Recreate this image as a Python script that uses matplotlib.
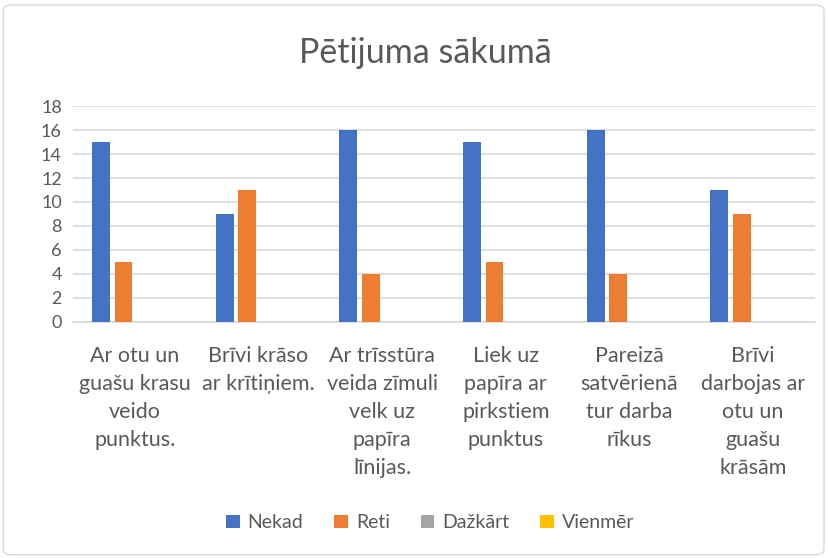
import matplotlib.pyplot as plt
import numpy as np
from matplotlib.patches import FancyBboxPatch

categories = [
    "Ar otu un\nguašu krasu\nveido\npunktus.",
    "Brīvi krāso\nar krītiņiem.",
    "Ar trīsstūra\nveida zīmuli\nvelk uz\npapīra\nlīnijas.",
    "Liek uz\npapīra ar\npirkstiem\npunktus",
    "Pareizā\nsatvērienā\ntur darba\nrīkus",
    "Brīvi\ndarbojas ar\notu un\nguašu\nkrāsām",
]
series_names = ["Nekad", "Reti", "Dažkārt", "Vienmēr"]
nekad = [15, 9, 16, 15, 16, 11]
reti = [5, 11, 4, 5, 4, 9]
dazkart = [0, 0, 0, 0, 0, 0]
vienmer = [0, 0, 0, 0, 0, 0]
series = [nekad, reti, dazkart, vienmer]
colors = ["#4472c4", "#ed7d31", "#a5a5a5", "#ffc000"]

plt.rcParams["font.family"] = ["Lato", "DejaVu Sans"]
text_color = "#595959"

fig = plt.figure(figsize=(8.29, 5.58), dpi=100)
ax = fig.add_axes([0.088, 0.423, 0.895, 0.387])

x = np.arange(len(categories))
bw = 0.145
step = 0.182
for i, (name, vals, c) in enumerate(zip(series_names, series, colors)):
    ax.bar(x + (i - 1.5) * step, vals, width=bw, color=c, label=name, zorder=3)

ax.set_xlim(-0.5, len(categories) - 0.5)
ax.set_ylim(0, 18)
ax.set_yticks(range(0, 19, 2))
ax.yaxis.grid(True, color="#d9d9d9", linewidth=1.2, zorder=0)
for s in ["top", "right", "left"]:
    ax.spines[s].set_visible(False)
ax.spines["bottom"].set_color("#d9d9d9")
ax.spines["bottom"].set_linewidth(1.2)
ax.tick_params(axis="both", length=0, colors=text_color)
ax.tick_params(axis="y", pad=8, labelsize=13)
ax.tick_params(axis="x", pad=17, labelsize=15.5)
ax.set_xticks(x)
ax.set_xticklabels(categories, linespacing=1.5)

fig.text(0.513, 0.905, "Pētijuma sākumā", ha="center", va="center",
         fontsize=24.5, color=text_color)

handles, labels = ax.get_legend_handles_labels()
fig.legend(handles, labels, loc="center", bbox_to_anchor=(0.519, 0.063), ncol=4,
           frameon=False, fontsize=14, labelcolor=text_color,
           handlelength=0.7, handleheight=0.7, handletextpad=0.4, columnspacing=1.6)

border = FancyBboxPatch((0.004, 0.006), 0.99, 0.985, boxstyle="round,pad=0,rounding_size=0.01",
                        transform=fig.transFigure, facecolor="none", edgecolor="#d9d9d9",
                        linewidth=1)
fig.patches.append(border)

fig.savefig("out.png", dpi=100)
